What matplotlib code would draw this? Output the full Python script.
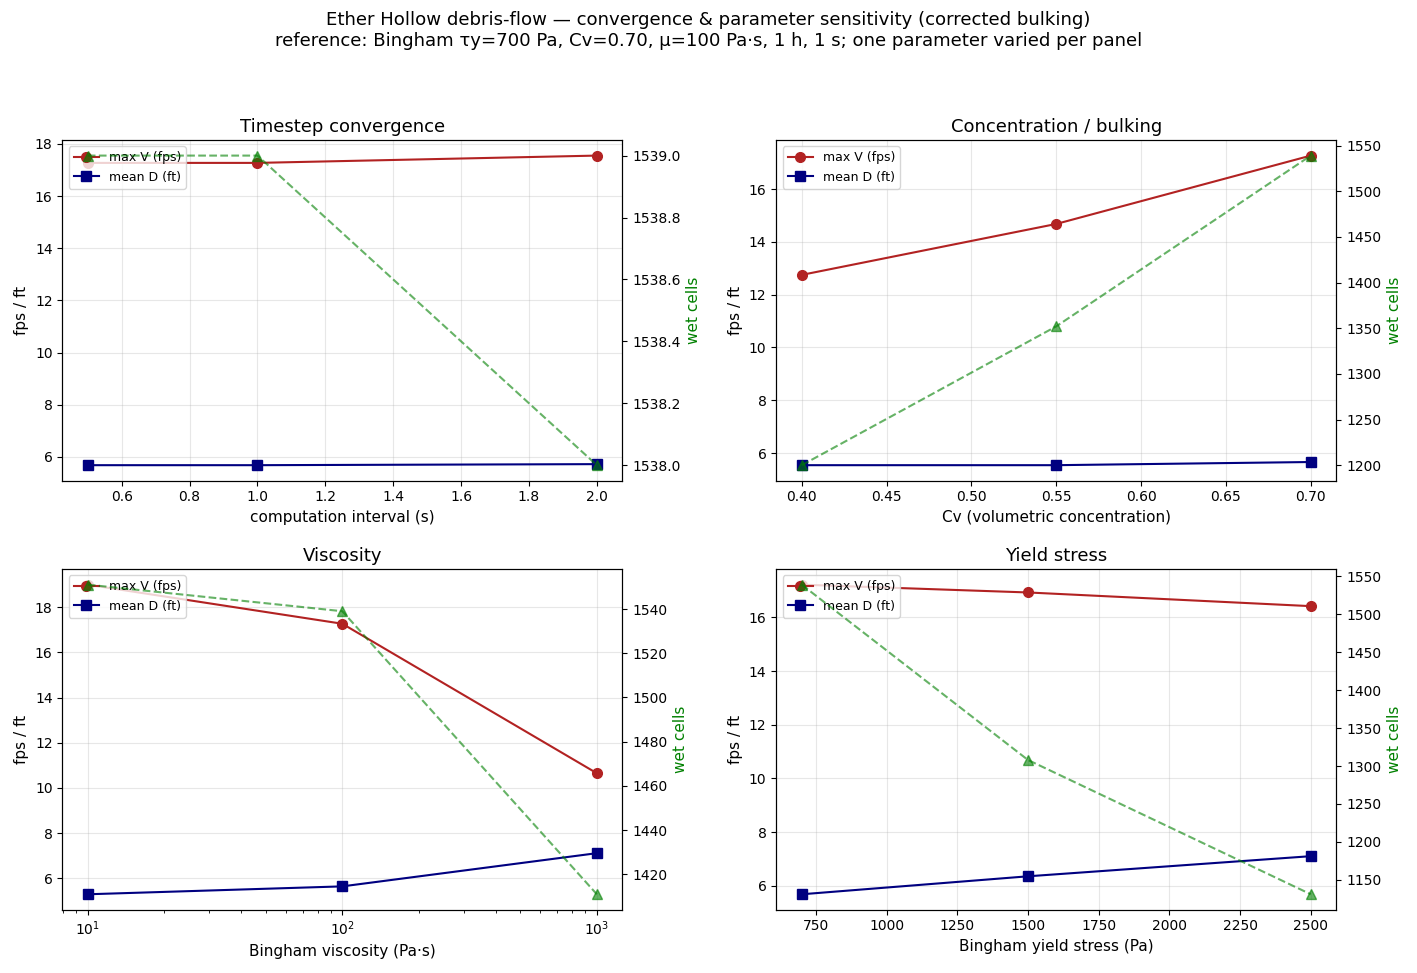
import matplotlib
matplotlib.use("Agg")
import matplotlib.pyplot as plt

# panel data: x values, max velocity (fps), mean depth (ft), wet cells
dt_vals = [0.5, 1.0, 2.0]
dt_maxv = [17.27, 17.27, 17.55]
dt_meand = [5.68, 5.68, 5.72]
dt_wet = [1539, 1539, 1538]

cv_vals = [0.40, 0.55, 0.70]
cv_maxv = [12.75, 14.68, 17.27]
cv_meand = [5.54, 5.54, 5.66]
cv_wet = [1200, 1352, 1539]

mu_vals = [10, 100, 1000]
mu_maxv = [19.0, 17.27, 10.65]
mu_meand = [5.29, 5.64, 7.11]
mu_wet = [1551, 1539, 1411]

ty_vals = [700, 1500, 2500]
ty_maxv = [17.22, 16.93, 16.42]
ty_meand = [5.68, 6.35, 7.10]
ty_wet = [1539, 1308, 1131]

panels = [
    ("Timestep convergence", "computation interval (s)", dt_vals, dt_maxv, dt_meand, dt_wet, False),
    ("Concentration / bulking", "Cv (volumetric concentration)", cv_vals, cv_maxv, cv_meand, cv_wet, False),
    ("Viscosity", "Bingham viscosity (Pa·s)", mu_vals, mu_maxv, mu_meand, mu_wet, True),
    ("Yield stress", "Bingham yield stress (Pa)", ty_vals, ty_maxv, ty_meand, ty_wet, False),
]

fig, axes = plt.subplots(2, 2, figsize=(14.17, 9.73), dpi=100)
fig.subplots_adjust(left=0.044, right=0.943, top=0.856, bottom=0.065,
                    wspace=0.275, hspace=0.26)

for ax, (title, xlabel, x, maxv, meand, wet, logx) in zip(axes.flat, panels):
    ax.plot(x, maxv, "o-", color="firebrick", label="max V (fps)", markersize=7)
    ax.plot(x, meand, "s-", color="navy", label="mean D (ft)", markersize=7)
    ax.set_title(title, fontsize=13)
    ax.set_xlabel(xlabel, fontsize=11)
    ax.set_ylabel("fps / ft", fontsize=11)
    ax.grid(alpha=0.3)
    if logx:
        ax.set_xscale("log")
    ax.legend(loc="upper left", fontsize=9)

    ax2 = ax.twinx()
    ax2.plot(x, wet, "^--", color="green", alpha=0.6, markersize=7)
    ax2.set_ylabel("wet cells", color="green", fontsize=11)

fig.suptitle("Ether Hollow debris-flow — convergence & parameter sensitivity (corrected bulking)\n"
             "reference: Bingham τy=700 Pa, Cv=0.70, μ=100 Pa·s, 1 h, 1 s; one parameter varied per panel",
             fontsize=13.1, y=0.989)

fig.savefig("out.png", dpi=100)
